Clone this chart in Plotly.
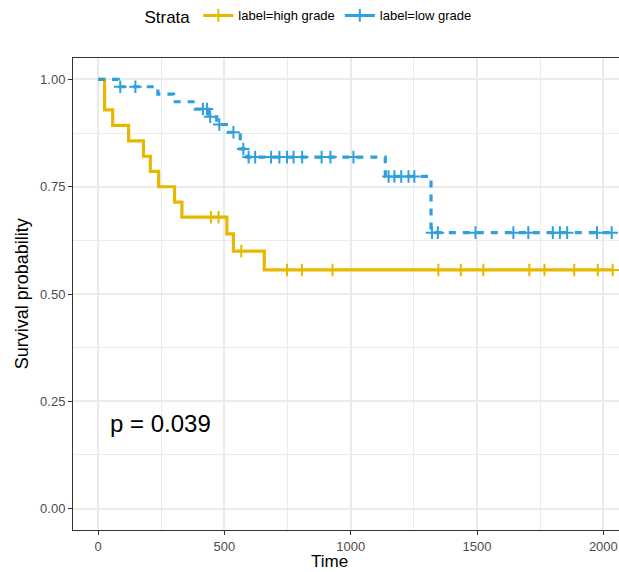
import plotly.graph_objects as go

# ---- data ----
high_times = [0, 26, 58, 121, 180, 207, 240, 303, 332, 510, 536, 658]
high_surv = [1.0, 0.929, 0.893, 0.857, 0.821, 0.786, 0.750, 0.714, 0.679, 0.640, 0.600, 0.556]
high_censor = [447, 477, 567, 748, 807, 928, 1347, 1436, 1525, 1707, 1767, 1885, 1978, 2037]

low_times = [0, 80, 237, 299, 385, 438, 470, 515, 563, 589, 1137, 1318]
low_surv = [1.0, 0.983, 0.966, 0.948, 0.931, 0.913, 0.895, 0.877, 0.838, 0.819, 0.774, 0.643]
low_censor = [88, 148, 415, 431, 444, 480, 536, 575, 596, 622, 685, 718, 748, 774, 808,
              885, 920, 1011, 1150, 1173, 1200, 1229, 1252, 1322, 1345, 1494, 1644,
              1703, 1800, 1828, 1857, 1975, 2033]

x_ticks = [0, 500, 1000, 1500, 2000]
y_ticks = [0.0, 0.25, 0.5, 0.75, 1.0]
p_text = "p = 0.039"

GOLD = "#E7B800"
BLUE = "#2E9FDF"
FONT = "Liberation Sans, Arial, sans-serif"


def surv_at(times, surv, t):
    s = surv[0]
    for ti, si in zip(times, surv):
        if ti <= t:
            s = si
    return s


def step_xy(times, surv, censor):
    end = max(max(times), max(censor))
    return list(times) + [end], list(surv) + [surv[-1]]


fig = go.Figure()

for name, times, surv, censor, color, dash in [
    ("label=high grade", high_times, high_surv, high_censor, GOLD, "solid"),
    ("label=low grade", low_times, low_surv, low_censor, BLUE, "7px,7px"),
]:
    sx, sy = step_xy(times, surv, censor)
    fig.add_trace(go.Scatter(x=sx, y=sy, mode="lines", line_shape="hv",
                             line=dict(color=color, width=3.2, dash=dash),
                             showlegend=False, hoverinfo="skip"))
    fig.add_trace(go.Scatter(x=censor, y=[surv_at(times, surv, t) for t in censor],
                             mode="markers",
                             marker=dict(symbol="cross-thin", size=9,
                                         line=dict(color=color, width=2)),
                             showlegend=False))
    fig.add_trace(go.Scatter(x=[None], y=[None], mode="lines+markers", name=name,
                             line=dict(color=color, width=3, dash="solid"),
                             marker=dict(symbol="cross-thin", size=9,
                                         line=dict(color=color, width=2))))

fig.add_annotation(x=41, y=0.198, xref="x", yref="y", text=p_text, showarrow=False,
                   xanchor="left", yanchor="middle",
                   font=dict(size=24, color="black", family=FONT))

# axis titles
fig.add_annotation(x=-0.093, y=0.5, xref="paper", yref="paper", text="Survival probability",
                   textangle=-90, showarrow=False, xanchor="center", yanchor="middle",
                   font=dict(size=18, color="black", family=FONT))
fig.add_annotation(x=0.47, y=-0.067, xref="paper", yref="paper", text="Time",
                   showarrow=False, xanchor="center", yanchor="middle",
                   font=dict(size=17, color="black", family=FONT))

grid = "#EBEBEB"
fig.update_layout(
    width=619, height=572,
    margin=dict(l=73, r=0, t=58, b=42),
    paper_bgcolor="white", plot_bgcolor="white",
    font=dict(family=FONT, color="#4D4D4D", size=13),
    legend=dict(orientation="h", x=0.433, xanchor="center", y=1.087, yanchor="middle",
                title=dict(text="Strata", font=dict(size=17, color="black")),
                font=dict(size=13, color="black"), itemwidth=30,
                bgcolor="rgba(0,0,0,0)"),
    xaxis=dict(range=[-99, 2062], tickvals=x_ticks, ticks="outside", ticklen=4,
               tickcolor="#333333", showline=True, linecolor="#333333", linewidth=1,
               mirror=True, showgrid=True, gridcolor=grid, gridwidth=1.5, zeroline=False,
               minor=dict(dtick=250, tick0=250, showgrid=True, gridcolor=grid, gridwidth=1),
               tickfont=dict(size=13, color="#4D4D4D"), automargin=False,
               ticklabeloverflow="allow"),
    yaxis=dict(range=[-0.05, 1.05], tickvals=y_ticks, tickformat=".2f", ticks="outside",
               ticklen=4, tickcolor="#333333", showline=True, linecolor="#333333",
               linewidth=1, showgrid=True, gridcolor=grid, gridwidth=1.5, zeroline=False,
               minor=dict(dtick=0.125, tick0=0.125, showgrid=True, gridcolor=grid, gridwidth=1),
               tickfont=dict(size=13, color="#4D4D4D"), automargin=False),
)

fig.write_html("out.html", config={"displayModeBar": False})

# remove the default page margin so the figure sits at the window's top-left corner
with open("out.html", "r", encoding="utf-8") as f:
    html = f.read()
html = html.replace("<body>", '<body style="margin:0;overflow:hidden">', 1)
with open("out.html", "w", encoding="utf-8") as f:
    f.write(html)
